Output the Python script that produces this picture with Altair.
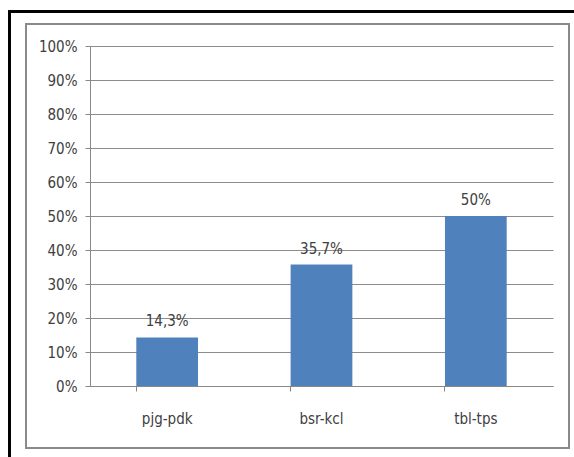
import altair as alt
import pandas as pd

# Share of each route
routes = ["pjg-pdk", "bsr-kcl", "tbl-tps"]
shares = [0.143, 0.357, 0.50]
y_ticks = [0.0, 0.1, 0.2, 0.3, 0.4, 0.5, 0.6, 0.7, 0.8, 0.9, 1.0]

df = pd.DataFrame({"route": routes, "share": shares})

FONT = "Liberation Sans Narrow, DejaVu Sans Condensed, sans-serif"
TEXT = "#404040"
SIZE = 15

base = alt.Chart(df)

x_enc = alt.X(
    "route:N",
    sort=routes,
    title=None,
    scale=alt.Scale(paddingInner=0.6, paddingOuter=0.3),
    axis=alt.Axis(
        labelAngle=0,
        bandPosition=0,
        domainColor="#888888",
        tickColor="#888888",
        tickSize=5,
        labelPadding=20,
        labelFontSize=SIZE,
        labelFont=FONT,
        labelColor=TEXT,
        grid=False,
    ),
)

y_enc = alt.Y(
    "share:Q",
    title=None,
    scale=alt.Scale(domain=[0, 1]),
    axis=alt.Axis(
        format="%",
        values=y_ticks,
        labelOverlap=False,
        domainColor="#888888",
        tickColor="#888888",
        tickSize=5,
        labelPadding=8,
        labelFontSize=SIZE,
        labelFont=FONT,
        labelColor=TEXT,
        gridColor="#8c8c8c",
        gridWidth=1,
    ),
)

bars = base.mark_bar(color="#4F81BD").encode(x=x_enc, y=y_enc)

labels = (
    base.transform_calculate(
        label="replace(format(datum.share, '.3~p'), '.', ',')"
    )
    .mark_text(baseline="bottom", dy=-8, fontSize=SIZE, font=FONT, color=TEXT)
    .encode(x=x_enc, y=y_enc, text="label:N")
)

# Decorative frames around the chart
inner_frame = base.mark_rect(
    fill=None, stroke="#8a8a8a", strokeWidth=2, clip=False
).encode(
    x=alt.value(-64), x2=alt.value(479), y=alt.value(-22), y2=alt.value(402)
)
outer_frame = base.mark_rect(
    fill=None, stroke="#000000", strokeWidth=2.5, clip=False
).encode(
    x=alt.value(-80.5), x2=alt.value(495), y=alt.value(-34.5), y2=alt.value(430)
)

chart = (
    alt.layer(outer_frame, inner_frame, bars, labels)
    .properties(
        width=463,
        height=340,
        autosize=alt.AutoSizeParams(type="none"),
        padding={"left": 90, "top": 46, "right": 21, "bottom": 71},
        background="white",
    )
    .configure_view(stroke=None)
)

chart.save("out.html", embed_options={"renderer": "svg", "actions": False})
